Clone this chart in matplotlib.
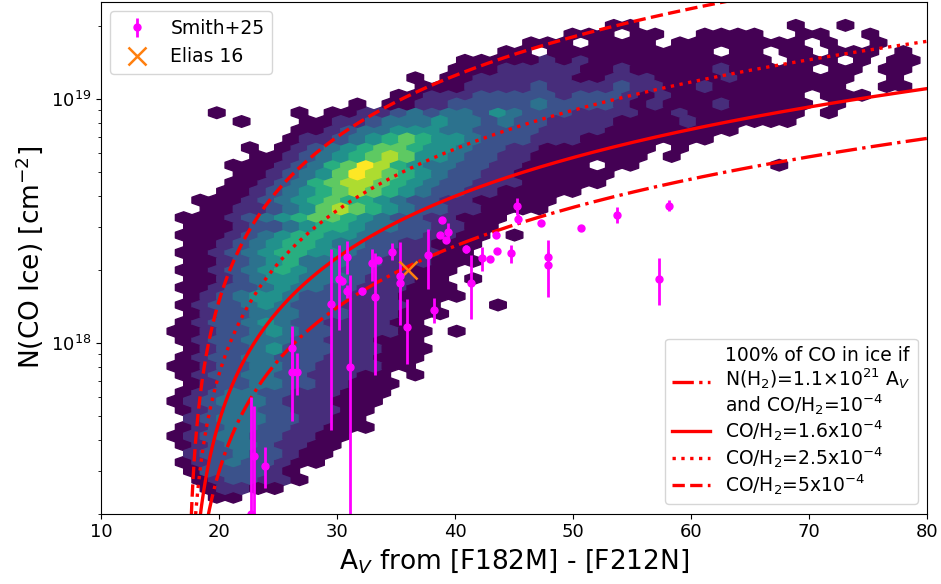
import numpy as np
import matplotlib
matplotlib.use("Agg")
import matplotlib.pyplot as plt

# hexbin grid used by the reference (x range and log10 N range)
GRID_NX, GRID_NY = 50, 28
X_EXTENT = (10.0, 80.1)
LOGY_EXTENT = (17.296, 19.302)

# colour level of each hex (1 = dark purple ... 9 = yellow), read row by row
# from the top of the plot; "col:levels" -> first column index and its run
HEX_ROWS = [
    "31:11 42:1 45:1",
    "28:111 32:11 36:1111 42:11 46:1",
    "26:111.111 33:1 35:111111 41:11.1 47:1",
    "24:11 27:1111111111 38:11.11 44:111 48:1",
    "22:11 24:1112121111 34:1111111 42:111 46:1.11",
    "21:1112 25:2222112111 35:1121111 42:1.11 47:11",
    "19:1 21:11222 26:2221122211 36:112111 42:111 45:1..1",
    "19:1112 23:22232222 31:3221 35:12111111 43:11 47:11",
    "18:112 21:223333323 30:3321 34:211111 40:111.11 46:1",
    "15:1 17:1122 21:3333343 28:33321 33:2111211 40:111 44:1",
    "7:1 12:1 14:1122 18:34344 23:35433 28:3222 32:2112 36:11111 41:11 44:1",
    "8:1 12:112 15:2344 19:45443 24:4332 28:2221 32:111211 38:111 41:1",
    "12:1123 16:4455 20:54433 25:3322 29:2211 33:1111 37:11",
    "11:1223 15:4567 19:65543 24:3322 28:2111 32:1111 36:1",
    "9:1 11:1234 15:5677 19:65543 24:3221 28:1111 32:11 35:1",
    "9:112345 15:6787 19:5543 23:3221 27:1111 31:11 34:1",
    "8:1112346 15:7986 19:5443 23:3221 27:111 31:11 41:1",
    "8:1123457 15:9876 19:5433 23:2211 27:111 30:1",
    "8:11234 13:6788 17:7654 21:3322 25:2111 29:11",
    "7:1123 11:4567 15:8765 19:4332 23:2111 27:11",
    "6:111234 12:5676 16:6543 20:3221 24:111 27:1",
    "6:11223 11:45787 16:6543 20:3221 24:11 26:1",
    "5:111234 11:5677 15:6543 19:3221 23:11",
    "5:111233 11:4566 15:5443 19:3221 23:1",
    "5:11123 10:4566 14:5543 18:3322 22:11 25:1",
    "5:11234 10:5665 14:4433 18:2211 22:1",
    "5:11234 10:5665 14:5433 18:2221 22:1",
    "5:1123 9:4564 13:4433 17:2221 21:11",
    "5:1123 9:4565 13:4433 17:2211 21:1",
    "5:1123 9:4554 13:4432 17:2211 22:1",
    "5:11233 10:454 13:4332 17:2211 21:1",
    "5:1234 9:5543 13:3322 17:2111 21:1",
    "5:1233 9:4543 13:3322 17:2211 24:1",
    "5:1233 9:4443 13:3322 17:211 20:1",
    "5:1233 9:4543 13:3222 17:211",
    "4:1123 8:3454 12:3322 16:2211 21:1",
    "5:1233 9:4443 13:3222 17:111",
    "5:123 8:3453 12:3322 16:2111",
    "5:1233 9:4433 13:3222 17:11 19:1",
    "4:1123 8:3443 12:3222 16:211",
    "5:1233 9:4433 13:2221 17:1 19:1",
    "5:123 8:3443 12:3221 16:11",
    "5:1234 9:4332 13:2211 17:1",
    "4:1234 8:4432 12:2211 16:1",
    "5:1234 9:4332 13:2211",
    "5:234 8:4433 12:2211",
    "5:1234 9:4332 13:2111",
    "4:1234 8:4332 12:211",
    "5:1234 9:4322 13:11",
    "5:233 8:4332 12:11",
    "5:1234 9:3321 13:1",
    "5:133 8:3321",
    "6:1233 10:221",
    "6:1221 10:1",
    "7:11",
]

# Smith+25 sources: A_V, N(CO ice) and error in units of 1e18 cm^-2
SMITH_AV = [58.1, 57.3, 53.7, 50.7, 45.25, 45.3, 47.3, 47.9, 47.9, 44.75,
            43.6, 43.0, 43.5, 42.3, 41.4, 40.9, 39.4, 38.9, 38.7, 39.2,
            37.75, 38.26, 26.2, 26.2, 26.6, 22.96, 22.7, 23.9, 29.5, 30.15,
            30.4, 30.85, 30.85, 31.1, 32.1, 32.97, 33.5, 33.25, 34.66, 35.3,
            35.3, 35.93]
SMITH_N = [3.66, 1.83, 3.36, 2.97, 3.64, 3.23, 3.10, 2.26, 2.09, 2.33,
           2.38, 2.22, 2.78, 2.23, 1.77, 2.43, 2.84, 3.20, 2.76, 2.65,
           2.30, 1.37, 0.956, 0.76, 0.76, 0.343, 0.2, 0.314, 1.44, 1.83,
           1.80, 2.26, 1.63, 0.797, 1.63, 2.12, 2.19, 1.54, 2.37, 1.89,
           1.77, 1.167]
SMITH_ERR = [0.18, 0.4, 0.25, 0.05, 0.3, 0.15, 0.05, 0.1, 0.55, 0.2,
             0.05, 0.05, 0.05, 0.25, 0.52, 0.1, 0.25, 0.05, 0.05, 0.05,
             0.64, 0.16, 0.22, 0.28, 0.15, 0.21, 0.4, 0.06, 1.0, 0.7,
             0.05, 0.35, 0.1, 1.1, 0.05, 0.32, 0.05, 0.8, 0.19, 0.7,
             0.1, 0.35]

ELIAS_AV, ELIAS_N = 36.0, 2.0e18

# model lines: N(CO) = ratio * 1.1e21 * (A_V - A_V,0)
NH2_PER_AV = 1.1e21
AV_ZERO = 17.3
CO_RATIOS = [1e-4, 1.6e-4, 2.5e-4, 5e-4]
CO_STYLES = ['-.', '-', ':', '--']
CO_LABELS = ["100% of CO in ice if\nN(H$_2$)=1.1\u00d710$^{21}$ A$_V$\nand CO/H$_2$=10$^{-4}$",
             "CO/H$_2$=1.6x10$^{-4}$",
             "CO/H$_2$=2.5x10$^{-4}$",
             "CO/H$_2$=5x10$^{-4}$"]

fig = plt.figure(figsize=(9.41, 5.84), dpi=100)
ax = fig.add_axes([0.1073, 0.1207, 0.8778, 0.8759])

# rebuild hex centres from the grid and the level map
sx = (X_EXTENT[1] - X_EXTENT[0]) / GRID_NX
sy = (LOGY_EXTENT[1] - LOGY_EXTENT[0]) / GRID_NY
hx, hy, hc = [], [], []
for r, row in enumerate(HEX_ROWS):
    logy = LOGY_EXTENT[1] - r * sy / 2
    shift = 0.5 if r % 2 else 0.0
    for seg in row.split():
        i0, levels = seg.split(':')
        for k, ch in enumerate(levels):
            if ch == '.':
                continue
            hx.append(X_EXTENT[0] + (int(i0) + k + shift) * sx)
            hy.append(10 ** logy)
            hc.append(int(ch))

ax.hexbin(hx, hy, C=hc, reduce_C_function=np.sum, gridsize=(GRID_NX, GRID_NY),
          yscale='log', extent=(X_EXTENT[0], X_EXTENT[1], LOGY_EXTENT[0], LOGY_EXTENT[1]),
          cmap='viridis', vmin=1, vmax=9)

av = AV_ZERO + np.geomspace(0.005, 80 - AV_ZERO, 600)
line_handles = []
for ratio, ls, lab in zip(CO_RATIOS, CO_STYLES, CO_LABELS):
    h, = ax.plot(av, ratio * NH2_PER_AV * (av - AV_ZERO), color='red', ls=ls, lw=2.4, label=lab)
    line_handles.append(h)

eb = ax.errorbar(SMITH_AV, np.array(SMITH_N) * 1e18, yerr=np.array(SMITH_ERR) * 1e18,
                 fmt='o', color='magenta', ms=5, elinewidth=2, label='Smith+25')
el, = ax.plot([ELIAS_AV], [ELIAS_N], 'x', color='#ff7f0e', ms=13, mew=1.8, ls='none',
              label='Elias 16')

ax.set_xlim(10, 80)
ax.set_ylim(2e17, 2.5e19)
ax.set_xlabel('A$_V$ from [F182M] - [F212N]', fontsize=19)
ax.set_ylabel('N(CO Ice) [cm$^{-2}$]', fontsize=19)
ax.tick_params(labelsize=13)

leg1 = ax.legend(handles=[eb, el], loc='upper left', fontsize=13.5)
ax.add_artist(leg1)
leg2 = ax.legend(handles=line_handles, loc='lower right', fontsize=13.5, labelspacing=0.1)
for t in leg2.get_texts():
    t.set_linespacing(1.05)

fig.savefig('out.png', dpi=100)
